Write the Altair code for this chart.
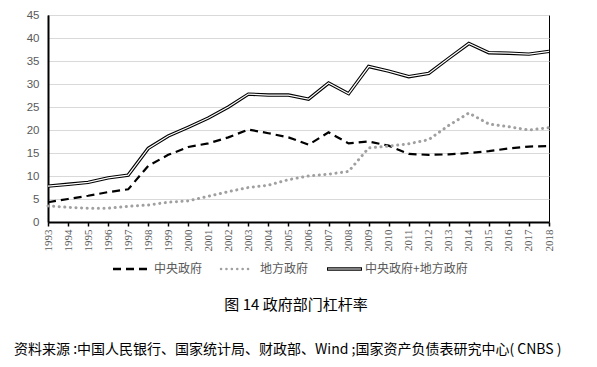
import altair as alt
import pandas as pd

years = list(range(1993, 2019))
central = [4.3, 5.0, 5.7, 6.5, 7.1, 12.2, 14.6, 16.3, 17.1, 18.4, 20.1, 19.3, 18.4, 16.8,
           19.5, 17.1, 17.5, 16.6, 14.8, 14.6, 14.7, 15.0, 15.4, 16.0, 16.4, 16.5]
local = [3.5, 3.2, 3.0, 3.0, 3.4, 3.7, 4.3, 4.6, 5.6, 6.6, 7.5, 8.0, 9.2, 10.0,
         10.4, 11.0, 16.1, 16.5, 17.0, 17.9, 21.0, 23.7, 21.3, 20.7, 20.0, 20.5]
total = [7.8, 8.2, 8.6, 9.6, 10.2, 16.0, 18.7, 20.6, 22.6, 25.0, 27.8, 27.6, 27.6, 26.7,
         30.2, 27.9, 33.8, 32.8, 31.6, 32.3, 35.6, 38.8, 36.8, 36.7, 36.5, 37.1]
y_ticks = list(range(0, 50, 5))
legend_labels = ["中央政府", "地方政府", "中央政府+地方政府"]
caption = "图 14  政府部门杠杆率"
source = "资料来源 :中国人民银行、国家统计局、财政部、Wind ;国家资产负债表研究中心( CNBS )"

df = pd.DataFrame({"year": years, "central": central, "local": local, "total": total})

xax = alt.Axis(values=years, format="d", labelAngle=270, labelAlign="right",
               labelBaseline="middle", labelFont="Liberation Serif", labelFontSize=11,
               labelColor="#595959", labelPadding=3, tickColor="black", tickSize=4,
               tickWidth=1.5, domainColor="black", domainWidth=2, grid=False,
               labelOverlap=False, labelFlush=False, title=None)
yax = alt.Axis(values=y_ticks, title=None, ticks=False, labelPadding=9, labelFontSize=11.5,
               labelFont="Liberation Sans", labelColor="#595959", domainColor="black",
               domainWidth=2, gridColor="#d9d9d9", gridWidth=1, labelOverlap=False,
               labelFlush=False)
xscale = alt.Scale(domain=[1993, 2018], nice=False, zero=False)
yscale = alt.Scale(domain=[0, 45], nice=False)


def X():
    return alt.X("year:Q", scale=xscale, axis=xax)


def Y(f):
    return alt.Y(f + ":Q", scale=yscale, axis=yax)


base = alt.Chart(df)
central_line = base.mark_line(color="black", strokeWidth=2.2, strokeDash=[8, 5]).encode(
    x=X(), y=Y("central"))
local_line = base.mark_line(color="#a0a0a0", strokeWidth=3, strokeDash=[0.1, 5.5],
                            strokeCap="round").encode(x=X(), y=Y("local"))
total_outer = base.mark_line(color="black", strokeWidth=3.4).encode(x=X(), y=Y("total"))
total_inner = base.mark_line(color="white", strokeWidth=1.2).encode(x=X(), y=Y("total"))

one = pd.DataFrame({"a": [0]})
lg = alt.Chart(one)
ly = 254
leg = [
    lg.mark_rule(color="black", strokeWidth=2.5, strokeDash=[8, 5]).encode(
        x=alt.value(65), x2=alt.value(102), y=alt.value(ly)),
    lg.mark_rule(color="#a0a0a0", strokeWidth=2.5, strokeDash=[0.1, 5.3], strokeCap="round").encode(
        x=alt.value(173), x2=alt.value(205), y=alt.value(ly)),
    lg.mark_rule(color="black", strokeWidth=3.4).encode(
        x=alt.value(279), x2=alt.value(314), y=alt.value(ly)),
    lg.mark_rule(color="white", strokeWidth=1.2).encode(
        x=alt.value(280), x2=alt.value(313), y=alt.value(ly)),
]
txt_style = dict(font="Noto Sans CJK SC", fontSize=12, color="#595959", align="left",
                 baseline="middle")
leg += [
    lg.mark_text(text=legend_labels[0], **txt_style).encode(x=alt.value(106), y=alt.value(ly)),
    lg.mark_text(text=legend_labels[1], **txt_style).encode(x=alt.value(212), y=alt.value(ly)),
    lg.mark_text(text=legend_labels[2], **txt_style).encode(x=alt.value(317), y=alt.value(ly)),
    lg.mark_text(text=caption, font="Noto Sans CJK SC", fontSize=15, color="black",
                 align="center", baseline="middle").encode(x=alt.value(248), y=alt.value(290)),
    lg.mark_text(text=source, font="Noto Sans CJK SC", fontSize=14, color="black",
                 align="left", baseline="middle").encode(x=alt.value(-34), y=alt.value(335)),
]

chart = alt.layer(central_line, local_line, total_outer, total_inner, *leg).properties(
    width=501, height=207,
    autosize=alt.AutoSizeParams(type="none"),
    padding={"left": 40, "top": 7, "right": 30, "bottom": 140},
).configure_view(stroke="black", strokeWidth=1)

chart.save("out.html", embed_options={"renderer": "svg", "actions": False})
